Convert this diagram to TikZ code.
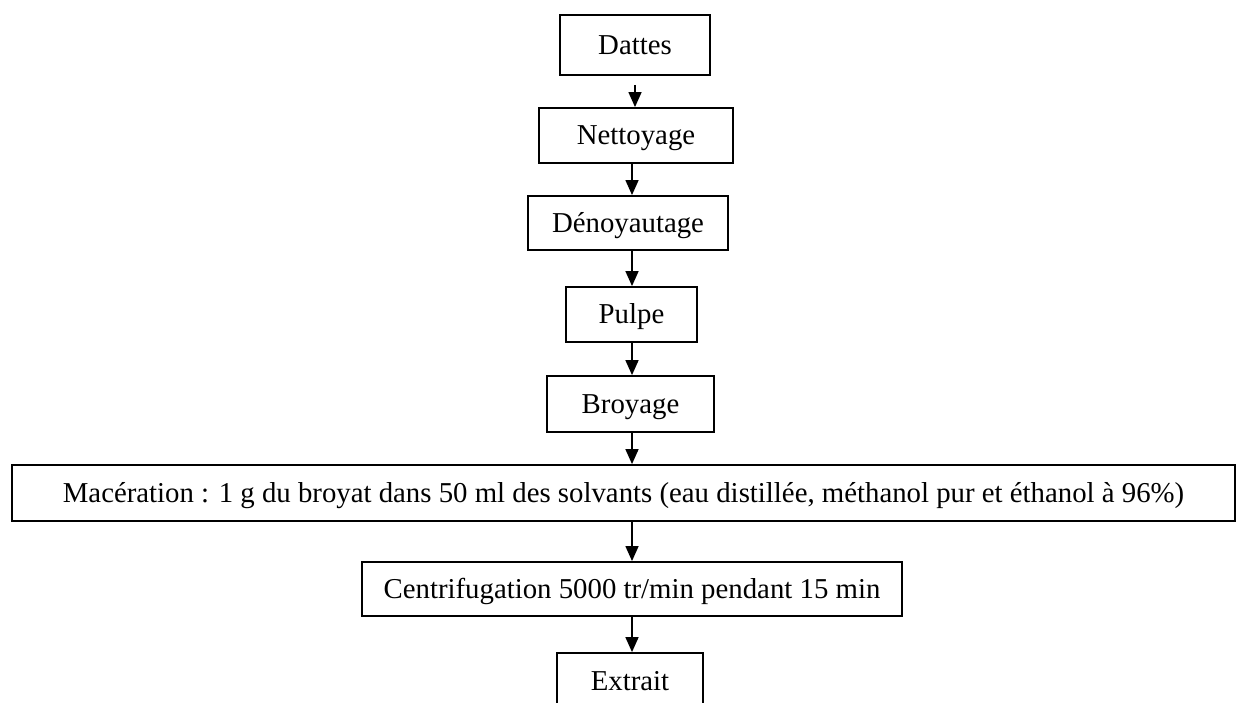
\documentclass[tikz,border=0pt]{standalone}
\usepackage{fontspec}
\setmainfont{Liberation Serif}
\usetikzlibrary{arrows.meta}
\begin{document}
\begin{tikzpicture}[x=0.4167pt,y=-0.4167pt,
  stepbox/.style={draw, line width=0.8pt, inner sep=0pt, rectangle,
    text height=7.9pt, text depth=0pt,
    font=\fontsize{12}{14}\selectfont},
  arr/.style={line width=0.55pt, -{Triangle[length=6.2pt,width=5.4pt]}}]
\useasboundingbox (0,0) rectangle (1237,702);
\clip (0,0) rectangle (1237,702);
\coordinate (ax) at (632,0);
\coordinate (bx) at (635,0);
% process steps
\node[stepbox, minimum width=62.5pt, minimum height=25pt] (dat) at (635,45) {Dattes};
\node[stepbox, minimum width=80.8pt, minimum height=22.9pt] (net) at (636,135.5) {Nettoyage};
\node[stepbox, minimum width=83.3pt, minimum height=22.5pt] (den) at (628,223) {Dénoyautage};
\node[stepbox, minimum width=54.6pt, minimum height=22.9pt] (pul) at (631.5,314.5) {Pulpe};
\node[stepbox, minimum width=69.6pt, minimum height=23.3pt] (bro) at (630.5,404) {Broyage};
\node[stepbox, minimum width=509.6pt, minimum height=23.3pt] (mac) at (623.5,493)
  {Macération : 1 g du broyat dans 50 ml des solvants (eau distillée, méthanol pur et éthanol à 96\%)};
\node[stepbox, minimum width=225pt, minimum height=22.5pt] (cen) at (632,589) {Centrifugation 5000 tr/min pendant 15 min};
\node[stepbox, minimum width=60.8pt, minimum height=23.3pt] (ext) at (630,681) {Extrait};
% connectors
\coordinate (d0) at (635,85);
\draw[arr] (d0) -- (net.north -| bx);
\draw[arr] (net.south -| ax) -- (den.north -| ax);
\draw[arr] (den.south -| ax) -- (pul.north -| ax);
\draw[arr] (pul.south -| ax) -- (bro.north -| ax);
\draw[arr] (bro.south -| ax) -- (mac.north -| ax);
\draw[arr] (mac.south -| ax) -- (cen.north -| ax);
\draw[arr] (cen.south -| ax) -- (ext.north -| ax);
\end{tikzpicture}
\end{document}
